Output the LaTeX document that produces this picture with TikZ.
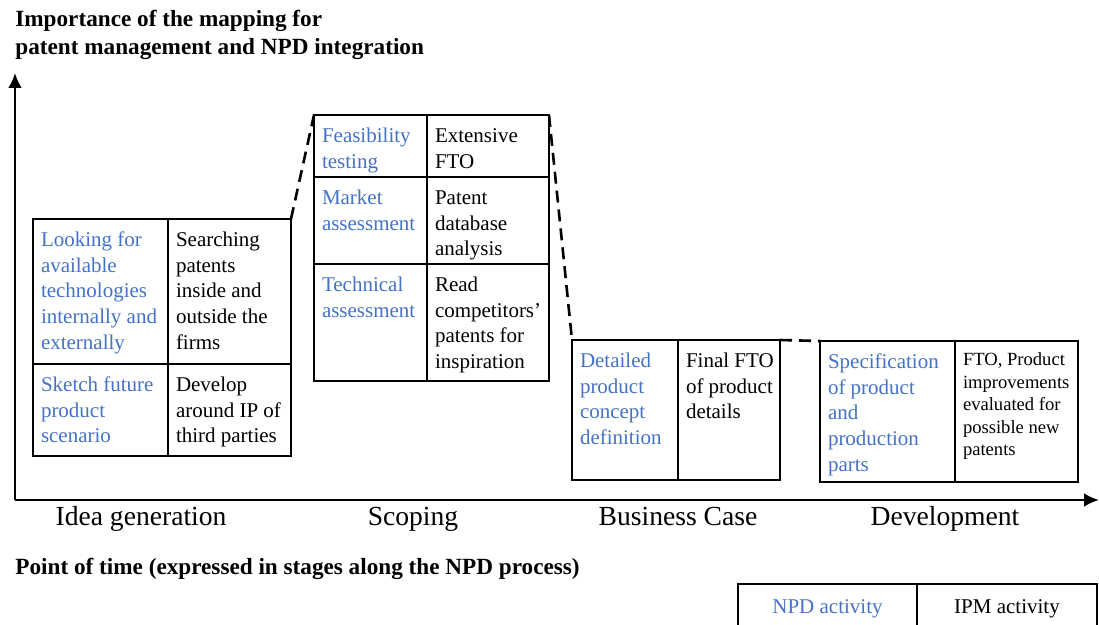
\documentclass[tikz,border=0pt]{standalone}
\usepackage{fontspec}
\setmainfont{Liberation Serif}
\usetikzlibrary{arrows.meta,positioning}
\definecolor{npdblue}{HTML}{4472C4}
% top-aligned cell text: width, height, lines
\newcommand{\celltxt}[3]{\parbox[c][#2][t]{#1}{\raggedright\leftskip=4pt\rule{0pt}{1.32em}#3}}

\begin{document}
\begin{tikzpicture}[x=0.5pt,y=-0.5pt,>={Latex[length=7.5pt,width=7pt]}]
 \tikzset{cell/.style={draw,line width=0.6pt,anchor=north west,inner sep=0pt,outer sep=0pt,font=\fontsize{10.5}{12.8}\selectfont},
          small/.style={font=\fontsize{9.3}{11.25}\selectfont},
          npd/.style={cell,text=npdblue},
          ipm/.style={cell,text=black},
          key/.style={draw,line width=0.6pt,anchor=north west,inner sep=0pt,outer sep=0pt,minimum height=25pt,font=\fontsize{10.5}{12.8}\selectfont},
          axis/.style={->,line width=1.4pt},
          link/.style={line width=1.3pt,dash pattern=on 6pt off 3.5pt},
          stage/.style={anchor=base,font=\fontsize{13.8}{16}\selectfont},
          heading/.style={anchor=base west,inner sep=0pt,font=\fontsize{11.6}{14.2}\selectfont\bfseries,align=left}}
 \useasboundingbox (0,0) rectangle (1099,625);

 % axes
 \coordinate (origin) at (15,500);
 \coordinate (ytip) at (15,73);
 \coordinate (xtip) at (1099,500);
 \draw[axis] (origin) -- (ytip);
 \draw[axis] (origin) -- (xtip);
 \node[heading] (title) at (15,55) {Importance of the mapping for\\patent management and NPD integration};
 \node[heading] (time) at (15,575) {Point of time (expressed in stages along the NPD process)};

 % idea generation
 \node[npd] (look) at (33,219) {\celltxt{67.5pt}{72.5pt}{Looking for\\available\\technologies\\internally and\\externally}};
 \node[ipm] (search) at (look.north east) {\celltxt{61.5pt}{72.5pt}{Searching\\patents\\inside and\\outside the\\firms}};
 \node[npd] (sketch) at (look.south west) {\celltxt{67.5pt}{46pt}{Sketch future\\product\\scenario}};
 \node[ipm] (develop) at (sketch.north east) {\celltxt{61.5pt}{46pt}{Develop\\around IP of\\third parties}};

 % scoping
 \node[npd] (feas) at (314,115) {\celltxt{56.5pt}{31pt}{Feasibility\\testing}};
 \node[ipm] (fto) at (feas.north east) {\celltxt{61pt}{31pt}{Extensive\\FTO}};
 \node[npd] (market) at (feas.south west) {\celltxt{56.5pt}{43.5pt}{Market\\assessment}};
 \node[ipm] (patdb) at (market.north east) {\celltxt{61pt}{43.5pt}{Patent\\database\\analysis}};
 \node[npd] (tech) at (market.south west) {\celltxt{56.5pt}{58.5pt}{Technical\\assessment}};
 \node[ipm] (read) at (tech.north east) {\celltxt{61pt}{58.5pt}{Read\\competitors’\\patents for\\inspiration}};

 % business case
 \node[npd] (detail) at (572,340) {\celltxt{53pt}{70pt}{Detailed\\product\\concept\\definition}};
 \node[ipm] (final) at (detail.north east) {\celltxt{51pt}{70pt}{Final FTO\\of product\\details}};

 % development
 \node[npd] (spec) at (820,341) {\celltxt{67.5pt}{70.5pt}{Specification\\of product\\and\\production\\parts}};
 \node[ipm,small] (improve) at (spec.north east) {\celltxt{61.5pt}{70.5pt}{FTO, Product\\improvements\\evaluated for\\possible new\\patents}};

 \draw[link] (search.north east) -- (feas.north west);
 \draw[link] (fto.north east) -- (detail.north west);
 \draw[link] (final.north east) -- (spec.north west);

 % stages
 \node[stage] (idea) at (141,526) {Idea generation};
 \node[stage] (scoping) at (413,526) {Scoping};
 \node[stage] (bcase) at (678,526) {Business Case};
 \node[stage] (devel) at (945,526) {Development};

 % legend
 \node[key,minimum width=89.5pt,text=npdblue] (legnpd) at (738,584) {NPD activity};
 \node[key,minimum width=90pt] (legipm) at (legnpd.north east) {IPM activity};
\end{tikzpicture}
\end{document}
